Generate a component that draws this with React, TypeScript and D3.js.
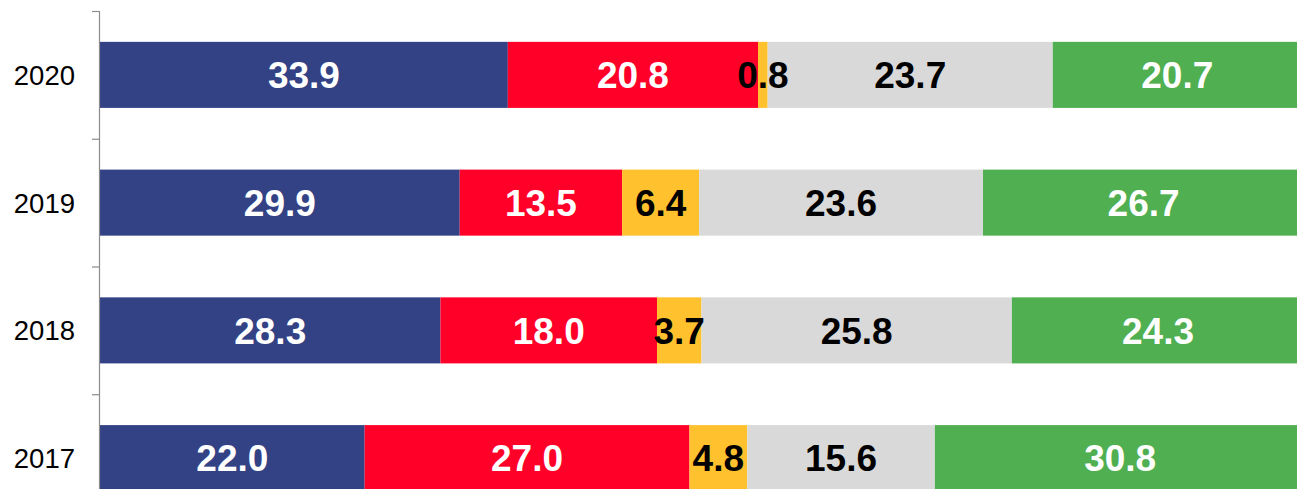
import React from "react";
import * as d3 from "d3";

const years = ["2020", "2019", "2018", "2017"];
const series1 = [33.9, 29.9, 28.3, 22.0];
const series2 = [20.8, 13.5, 18.0, 27.0];
const series3 = [0.8, 6.4, 3.7, 4.8];
const series4 = [23.7, 23.6, 25.8, 15.6];
const series5 = [20.7, 26.7, 24.3, 30.8];
const seriesColors = ["#334185", "#FF0029", "#FFC12E", "#D9D9D9", "#50AF51"];
const labelColors = ["#FFFFFF", "#FFFFFF", "#000000", "#000000", "#FFFFFF"];

const W = 1297;
const H = 489;

export default function App() {
  const allSeries = [series1, series2, series3, series4, series5];
  const x = d3.scaleLinear().domain([0, 100]).range([100, 1303]);
  const y = d3.scaleBand<string>().domain(years).range([11, 522]).paddingInner(0).paddingOuter(0);
  const bw = y.bandwidth();
  const barH = bw * 0.517;

  const rows = years.map((yr, i) => {
    let acc = 0;
    return allSeries.map((s, k) => {
      const v = s[i];
      const x0 = acc;
      acc += v;
      return { yr, k, v, x0, x1: acc };
    });
  });
  const flat = rows.flat();

  const boundaries = [...years.map((yr) => y(yr)!), 11 + bw * years.length];

  return (
    <svg
      width={W}
      height={H}
      style={{ position: "fixed", left: 0, top: 0, background: "#fff" }}
      fontFamily="'Liberation Sans', Arial, sans-serif"
    >
      {flat.map((d) => {
        const cy = y(d.yr)! + bw / 2;
        return (
          <rect
            key={"r" + d.yr + d.k}
            x={x(d.x0)}
            y={cy - barH / 2}
            width={x(d.x1) - x(d.x0)}
            height={barH}
            fill={seriesColors[d.k]}
          />
        );
      })}
      {flat.map((d) => {
        const cy = y(d.yr)! + bw / 2;
        return (
          <text
            key={"t" + d.yr + d.k}
            x={(x(d.x0) + x(d.x1)) / 2}
            y={cy}
            dy="0.36em"
            textAnchor="middle"
            fontWeight="bold"
            fontSize={37}
            fill={labelColors[d.k]}
          >
            {d.v.toFixed(1)}
          </text>
        );
      })}
      <line x1={99.5} x2={99.5} y1={11} y2={H} stroke="#8c8c8c" strokeWidth={1.2} />
      {boundaries.map((b, i) => (
        <line key={i} x1={92} x2={99.5} y1={b + 0.5} y2={b + 0.5} stroke="#8c8c8c" strokeWidth={1.2} />
      ))}
      {years.map((yr) => (
        <text
          key={yr}
          x={75}
          y={y(yr)! + bw / 2}
          dy="0.36em"
          textAnchor="end"
          fontSize={27.5}
          fill="#000"
        >
          {yr}
        </text>
      ))}
    </svg>
  );
}
